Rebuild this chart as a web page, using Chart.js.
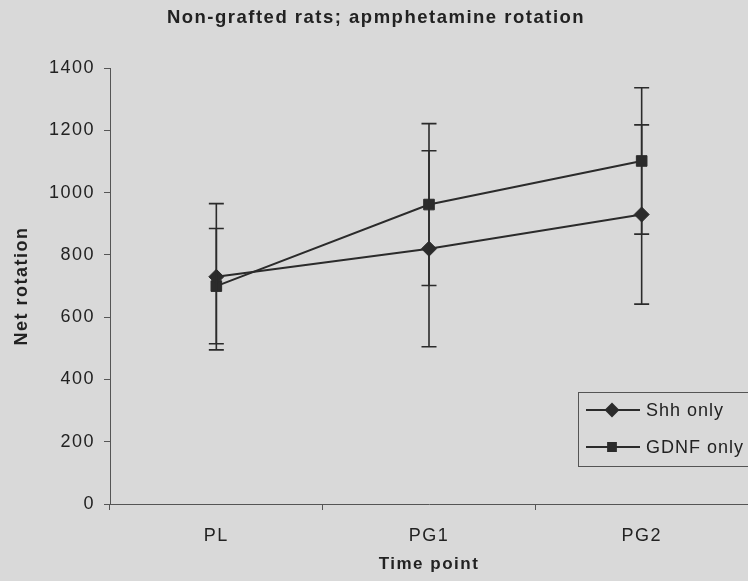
<!DOCTYPE html>
<html>
<head>
<meta charset="utf-8">
<script src="https://cdn.jsdelivr.net/npm/chart.js@4"></script>
<style>
  html, body { margin: 0; padding: 0; background: #d9d9d9; }
  #wrap { width: 748px; height: 581px; position: relative; overflow: hidden; }
</style>
</head>
<body>
<div id="wrap"><canvas id="myChart" width="748" height="581"></canvas></div>
<script>
// Data
const timePoints = ['PL', 'PG1', 'PG2']
const shhOnly = [730, 820, 930]
const shhErr = [235, 315, 288]
const gdnfOnly = [700, 962, 1102]
const gdnfErr = [185, 260, 235]
const yTicks = [0, 200, 400, 600, 800, 1000, 1200, 1400]

const INK = '#2b2b2b'
const FONT = "'Liberation Sans', Arial, sans-serif"

// the scanned original has loose letter spacing
const spacing = {
    id: 'spacing',
    beforeUpdate(chart) { chart.ctx.letterSpacing = '1.5px' },
    beforeDraw(chart) { chart.ctx.letterSpacing = '1.5px' }
}

// Error bars drawn from the y scale
const errorBars = {
    id: 'errorBars',
    afterDatasetsDraw(chart) {
        const ctx = chart.ctx
        const y = chart.scales.y
        chart.data.datasets.forEach((ds, di) => {
            const meta = chart.getDatasetMeta(di)
            meta.data.forEach((pt, i) => {
                const v = ds.data[i]
                const e = ds.errors[i]
                const top = y.getPixelForValue(v + e)
                const bot = y.getPixelForValue(v - e)
                ctx.save()
                ctx.strokeStyle = INK
                ctx.lineWidth = 1.6
                ctx.beginPath()
                ctx.moveTo(pt.x, top)
                ctx.lineTo(pt.x, bot)
                ctx.moveTo(pt.x - 7.5, top)
                ctx.lineTo(pt.x + 7.5, top)
                ctx.moveTo(pt.x - 7.5, bot)
                ctx.lineTo(pt.x + 7.5, bot)
                ctx.stroke()
                ctx.restore()
            })
        })
    }
}

// Boxed legend inside the plot, bottom right
const boxLegend = {
    id: 'boxLegend',
    afterDraw(chart) {
        const ctx = chart.ctx
        const x0 = 578, y0 = 392, h = 74
        ctx.save()
        ctx.letterSpacing = '1px'
        ctx.strokeStyle = '#555'
        ctx.lineWidth = 1
        ctx.strokeRect(x0 + 0.5, y0 + 0.5, 200, h)
        ctx.font = '18px ' + FONT
        ctx.textBaseline = 'middle'
        const rows = [
            { label: chart.data.datasets[0].label, style: 'rectRot', r: 6, yy: y0 + 18 },
            { label: chart.data.datasets[1].label, style: 'rect', r: 5.5, yy: y0 + 55 }
        ]
        rows.forEach(row => {
            ctx.strokeStyle = INK
            ctx.lineWidth = 2
            ctx.beginPath()
            ctx.moveTo(586, row.yy)
            ctx.lineTo(640, row.yy)
            ctx.stroke()
            ctx.fillStyle = INK
            Chart.helpers.drawPoint(ctx, { pointStyle: row.style, radius: row.r, borderWidth: 1 }, 612, row.yy)
            ctx.fillStyle = '#222'
            ctx.fillText(row.label, 646, row.yy + 1)
        })
        ctx.restore()
    }
}

new Chart(document.getElementById('myChart'), {
    type: 'line',
    data: {
        labels: timePoints,
        datasets: [{
            label: 'Shh only',
            data: shhOnly,
            errors: shhErr,
            borderColor: INK,
            backgroundColor: INK,
            borderWidth: 2,
            pointStyle: 'rectRot',
            pointRadius: 7.5,
            pointBorderWidth: 1
        }, {
            label: 'GDNF only',
            data: gdnfOnly,
            errors: gdnfErr,
            borderColor: INK,
            backgroundColor: INK,
            borderWidth: 2,
            pointStyle: 'rect',
            pointRadius: 7.5,
            pointBorderWidth: 1
        }]
    },
    options: {
        responsive: false,
        animation: false,
        layout: { autoPadding: false, padding: { left: 0, right: -4, top: 0, bottom: 0 } },
        plugins: {
            legend: { display: false },
            tooltip: { enabled: false },
            title: {
                display: true,
                text: 'Non-grafted rats; apmphetamine rotation',
                color: '#222',
                font: { family: FONT, size: 18.5, weight: 'bold' },
                padding: { top: 7, bottom: 39 }
            }
        },
        scales: {
            x: {
                offset: true,
                afterFit(scale) {
                    scale.height = 77
                    scale.paddingLeft = 0
                    scale.paddingRight = -4
                },
                grid: { display: true, drawOnChartArea: false, offset: true, tickLength: 6, color: '#555' },
                border: { color: '#555', width: 1 },
                ticks: { color: '#222', padding: 15, font: { family: FONT, size: 18 } },
                title: {
                    display: true,
                    text: 'Time point',
                    color: '#222',
                    font: { family: FONT, size: 17, weight: 'bold' },
                    padding: { top: 4, bottom: 6 }
                }
            },
            y: {
                min: 0,
                max: 1400,
                afterFit(scale) { scale.width = 110 },
                afterBuildTicks(scale) { scale.ticks = yTicks.map(v => ({ value: v })) },
                grid: { display: true, drawOnChartArea: false, tickLength: 6, color: '#555' },
                border: { color: '#555', width: 1 },
                ticks: {
                    color: '#222',
                    padding: 9,
                    font: { family: FONT, size: 18 },
                    callback: value => String(value)
                },
                title: {
                    display: true,
                    text: 'Net rotation',
                    color: '#222',
                    font: { family: FONT, size: 18, weight: 'bold' },
                    padding: { top: 11, bottom: 0 }
                }
            }
        }
    },
    plugins: [spacing, errorBars, boxLegend]
})
</script>
</body>
</html>
